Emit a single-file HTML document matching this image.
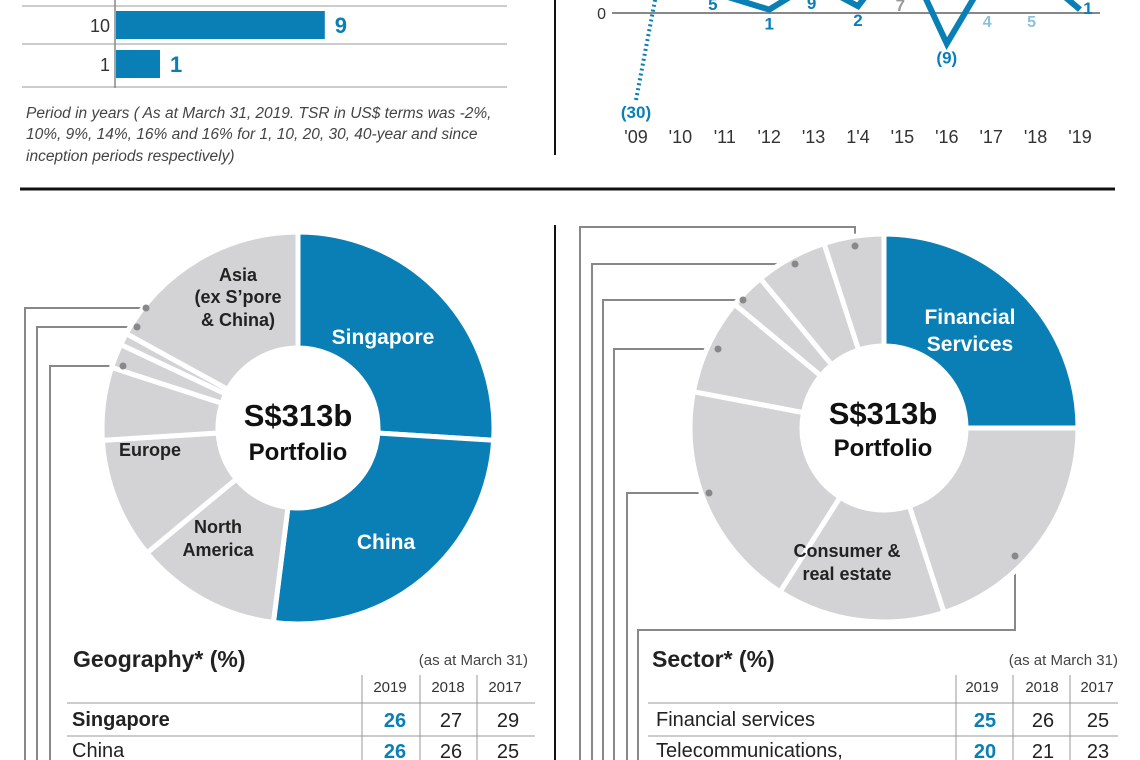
<!DOCTYPE html>
<html><head><meta charset="utf-8">
<style>
body{margin:0;background:#fff;width:1140px;height:760px;overflow:hidden;position:relative;font-family:"Liberation Sans",sans-serif;}
svg{position:absolute;left:0;top:0}
</style></head>
<body>
<svg id="s" width="1140" height="760" viewBox="0 0 1140 760">
<g>
<line x1="22" y1="6" x2="507" y2="6" stroke="#999" stroke-width="1"/>
<line x1="22" y1="44" x2="507" y2="44" stroke="#999" stroke-width="1"/>
<line x1="22" y1="87" x2="507" y2="87" stroke="#999" stroke-width="1"/>
<g id="bars"></g>
<line x1="115" y1="0" x2="115" y2="88" stroke="#888" stroke-width="1.5"/>
</g>
<g font-style="italic" font-size="15.5" fill="#444">
<text x="26" y="118">Period in years ( As at March 31, 2019. TSR in US$ terms was -2%,</text>
<text x="26" y="139">10%, 9%, 14%, 16% and 16% for 1, 10, 20, 30, 40-year and since</text>
<text x="26" y="161">inception periods respectively)</text>
</g>
<line x1="555" y1="0" x2="555" y2="155" stroke="#111" stroke-width="2"/>
<line x1="20" y1="189" x2="1115" y2="189" stroke="#111" stroke-width="3"/>
<line x1="555" y1="225" x2="555" y2="760" stroke="#111" stroke-width="2"/>
<g id="linechart"></g>
<g id="leaders" fill="none" stroke="#888" stroke-width="2">
<polyline points="25,760 25,308 146,308"/>
<polyline points="37,760 37,327 137,327"/>
<polyline points="50,760 50,366 123,366"/>
<polyline points="580,760 580,227 855,227 855,246"/>
<polyline points="592,760 592,264 795,264"/>
<polyline points="603,760 603,300 743,300"/>
<polyline points="614,760 614,349 718,349"/>
<polyline points="627,760 627,493 709,493"/>
<polyline points="638,760 638,630 1015,630 1015,556"/>
</g>
<g id="donuts"></g>
<g id="dots" fill="#888"></g>
<g font-weight="bold" text-anchor="middle">
<text x="383" y="344" font-size="21" fill="#fff">Singapore</text>
<text x="386" y="549" font-size="21" fill="#fff">China</text>
<text x="238" y="281" font-size="18" fill="#222">Asia</text>
<text x="238" y="303" font-size="18" fill="#222">(ex S’pore</text>
<text x="238" y="326" font-size="18" fill="#222">&amp; China)</text>
<text x="150" y="456" font-size="18" fill="#222">Europe</text>
<text x="218" y="533" font-size="18" fill="#222">North</text>
<text x="218" y="556" font-size="18" fill="#222">America</text>
<text x="298" y="426" font-size="31" fill="#111">S$313b</text>
<text x="298" y="460" font-size="24" fill="#111">Portfolio</text>
<text x="970" y="324" font-size="21" fill="#fff">Financial</text>
<text x="970" y="351" font-size="21" fill="#fff">Services</text>
<text x="883" y="424" font-size="31" fill="#111">S$313b</text>
<text x="883" y="456" font-size="24" fill="#111">Portfolio</text>
<text x="847" y="557" font-size="18" fill="#222">Consumer &amp;</text>
<text x="847" y="580" font-size="18" fill="#222">real estate</text>
</g>
<g fill="#222">
<text x="73" y="667" font-size="23" font-weight="bold">Geography* (%)</text>
<text x="528" y="665" font-size="15" text-anchor="end" fill="#444">(as at March 31)</text>
<g font-size="15" text-anchor="middle" fill="#333"><text x="390" y="692">2019</text><text x="448" y="692">2018</text><text x="505" y="692">2017</text></g>
<line x1="67" y1="703" x2="535" y2="703" stroke="#999"/>
<line x1="67" y1="736" x2="535" y2="736" stroke="#999"/>
<g stroke="#999"><line x1="362" y1="675" x2="362" y2="760"/><line x1="420" y1="675" x2="420" y2="760"/><line x1="477" y1="675" x2="477" y2="760"/></g>
<text x="72" y="726" font-size="20" font-weight="bold">Singapore</text>
<text x="72" y="757" font-size="20">China</text>
<g font-size="20" text-anchor="middle"><text x="395" y="727" fill="#0a7fb5" font-weight="bold">26</text><text x="451" y="727">27</text><text x="508" y="727">29</text>
<text x="395" y="758" fill="#0a7fb5" font-weight="bold">26</text><text x="451" y="758">26</text><text x="508" y="758">25</text></g>
</g>
<g fill="#222">
<text x="652" y="667" font-size="23" font-weight="bold">Sector* (%)</text>
<text x="1118" y="665" font-size="15" text-anchor="end" fill="#444">(as at March 31)</text>
<g font-size="15" text-anchor="middle" fill="#333"><text x="982" y="692">2019</text><text x="1042" y="692">2018</text><text x="1097" y="692">2017</text></g>
<line x1="648" y1="703" x2="1118" y2="703" stroke="#999"/>
<line x1="648" y1="736" x2="1118" y2="736" stroke="#999"/>
<g stroke="#999"><line x1="956" y1="675" x2="956" y2="760"/><line x1="1013" y1="675" x2="1013" y2="760"/><line x1="1070" y1="675" x2="1070" y2="760"/></g>
<text x="656" y="726" font-size="20">Financial services</text>
<text x="656" y="757" font-size="20">Telecommunications,</text>
<g font-size="20" text-anchor="middle"><text x="985" y="727" fill="#0a7fb5" font-weight="bold">25</text><text x="1043" y="727">26</text><text x="1098" y="727">25</text>
<text x="985" y="758" fill="#0a7fb5" font-weight="bold">20</text><text x="1043" y="758">21</text><text x="1098" y="758">23</text></g>
</g>
</svg>
<script>
const NS="http://www.w3.org/2000/svg";
const barPeriods=["20","10","1"];
const barValues=[7.5,9,1];
const years=["'09","'10","'11","'12","'13","1'4","'15","'16","'17","'18","'19"];
const tsrValues=[-30,43,5,1,9,2,19,-9,13,12,1];
const greyYear=6;
const greyValue=7;
const lightYears=[8,9];
const lightValues=[4,5];
const geoNames=["Singapore","China","North America","Europe","Australia & NZ","Africa, Central Asia & Middle East","Latin America","Asia ex Singapore & China"];
const geoValues=[26,26,12,10,6,2,1,17];
const secNames=["Financial services","Telecom, media & technology","Consumer & real estate","Transportation & industrials","Life sciences & agribusiness","Energy & resources","Multi-sector funds","Others"];
const secValues=[25,20,14,19,8,3,6,5];

function mk(tag,attrs,parent){const e=document.createElementNS(NS,tag);for(const k in attrs)e.setAttribute(k,attrs[k]);parent.appendChild(e);return e;}

// bars
const bw=v=>Math.max(v*23.2,44);
const bg=document.getElementById('bars');
barValues.forEach((v,i)=>{
  const top=-38+i*39;
  const w=bw(v);
  const r=mk('rect',{x:116,y:top+10,width:w,height:28,fill:'#0a7fb5'},bg);
  
  
  const t=mk('text',{x:116+w+10,y:top+32,'font-size':22,'font-weight':'bold',fill:'#0a7fb5'},bg);t.textContent=Math.round(v);
  
  
  const l=mk('text',{x:110,y:top+31,'font-size':18,'text-anchor':'end',fill:'#333'},bg);l.textContent=barPeriods[i];
  
  
});

// line chart
const lc=document.getElementById('linechart');
const X=i=>636+i*44.4;
const Y=v=>v<-15?100:13-v*3.4;
mk('line',{x1:612,y1:13,x2:1100,y2:13,stroke:'#888','stroke-width':2},lc);
const z=mk('text',{x:606,y:19,'font-size':16,fill:'#333','text-anchor':'end'},lc);z.textContent='0';
const defs=mk('defs',{},lc);const cp=mk('clipPath',{id:'cp'},defs);mk('rect',{x:600,y:0,width:520,height:160},cp);
years.forEach((y,i)=>{const t=mk('text',{x:X(i),y:143,'font-size':18,fill:'#333','text-anchor':'middle'},lc);t.textContent=y;
});
let d='';for(let i=1;i<tsrValues.length;i++)d+=(i==1?'M':'L')+X(i)+','+Y(tsrValues[i]);
const ln=mk('path',{d:d,fill:'none',stroke:'#0a7fb5','stroke-width':6,'stroke-linejoin':'miter','clip-path':'url(#cp)'},lc);

const dl=mk('path',{d:'M'+X(0)+','+Y(tsrValues[0])+'L'+X(1)+','+Y(tsrValues[1]),fill:'none',stroke:'#0a7fb5','stroke-width':4,'stroke-dasharray':'2 3','clip-path':'url(#cp)'},lc);

let d2='';lightYears.forEach((yi,k)=>{d2+=(k?'L':'M')+(X(yi)-12)+','+(Y(lightValues[k])-10)+'L'+(X(yi)+12)+','+(Y(lightValues[k])-10);});
const l2=mk('path',{d:d2,fill:'none',stroke:'#7fb8d6','stroke-width':5,'clip-path':'url(#cp)'},lc);

tsrValues.forEach((v,i)=>{
  let txt=v<0?'('+(-v)+')':String(v),x=X(i),y;
  if(i==1||i==6||i==8||i==9)return;
  if(i==2){x=X(i)-12;y=10;} else if(i==4){x=X(i)-2;y=9;} else if(i==10){x=X(i)+8;y=14;}
  else y=Y(v)+20;
  if(i==0)y=118;
  const t=mk('text',{x:x,y:y,'font-size':17,'font-weight':'bold','text-anchor':'middle',fill:'#0a7fb5'},lc);t.textContent=txt;
  
});
const gt=mk('text',{x:X(greyYear)-2,y:11,'font-size':17,'font-weight':'bold','text-anchor':'middle',fill:'#999'},lc);gt.textContent=greyValue;

lightValues.forEach((v,k)=>{const t=mk('text',{x:X(lightYears[k])-4,y:27,'font-size':16,'font-weight':'bold','text-anchor':'middle',fill:'#8cc0dc'},lc);t.textContent=v;
});

// donuts
function donut(cx,cy,R,r,vals,names,blue,prefix){
  const g=document.getElementById('donuts');const tot=vals.reduce((a,b)=>a+b,0);let a=0;
  vals.forEach((v,i)=>{
    const a0=a/tot*2*Math.PI,a1=(a+v)/tot*2*Math.PI;a+=v;
    const p=(ang,rad)=>[cx+rad*Math.sin(ang),cy-rad*Math.cos(ang)];
    const [x0,y0]=p(a0,R),[x1,y1]=p(a1,R),[x2,y2]=p(a1,r),[x3,y3]=p(a0,r);const lg=(a1-a0)>Math.PI?1:0;
    const s=mk('path',{d:`M${x0},${y0}A${R},${R} 0 ${lg} 1 ${x1},${y1}L${x2},${y2}A${r},${r} 0 ${lg} 0 ${x3},${y3}Z`,fill:blue.includes(i)?'#0a7fb5':'#d3d3d5',stroke:'#fff','stroke-width':5},g);
    
    
  });
}
donut(298,428,196,80,geoValues,geoNames,[0,1],'geography');
donut(884,428,194,82,secValues,secNames,[0],'sector');
const dots=document.getElementById('dots');
[[146,308],[137,327],[123,366],[855,246],[795,264],[743,300],[718,349],[709,493],[1015,556]].forEach(p=>{mk('circle',{cx:p[0],cy:p[1],r:3.5},dots);});
</script>
</body></html>
